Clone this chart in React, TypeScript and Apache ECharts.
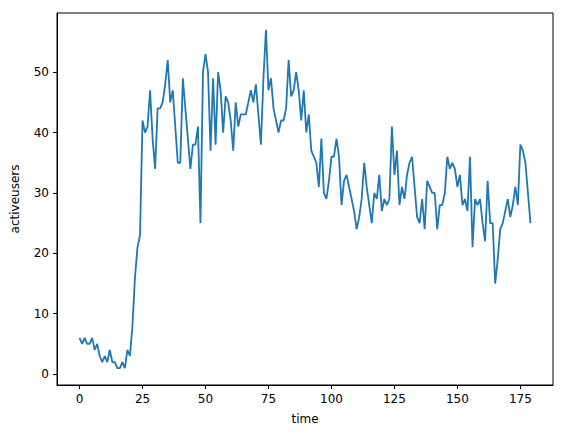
import React, { useEffect, useRef } from "react";
import * as echarts from "echarts";

const activeUsers: number[] = [
  6, 5, 6, 5, 5, 6, 4, 5, 3, 2,
  3, 2, 4, 2, 2, 1, 1, 2, 1, 4,
  3, 8, 16, 21, 23, 42, 40, 41, 47, 39,
  34, 44, 44, 45, 48, 52, 45, 47, 41, 35,
  35, 49, 44, 39, 34, 38, 38, 41, 25, 50,
  53, 50, 37, 49, 38, 50, 47, 40, 46, 45,
  42, 37, 45, 41, 43, 43, 43, 45, 47, 45,
  48, 43, 38, 49, 57, 47, 49, 44, 42, 40,
  42, 42, 44, 52, 46, 47, 50, 47, 42, 47,
  40, 43, 37, 36, 35, 31, 39, 30, 29, 32,
  36, 36, 39, 36, 28, 32, 33, 31, 29, 27,
  24, 26, 29, 35, 31, 28, 25, 30, 29, 33,
  27, 29, 28, 29, 41, 33, 37, 28, 31, 29,
  33, 35, 36, 31, 26, 25, 29, 24, 32, 31,
  30, 30, 24, 28, 28, 30, 36, 34, 35, 34,
  31, 33, 28, 29, 27, 36, 21, 29, 28, 29,
  25, 22, 32, 25, 25, 15, 19, 24, 25, 27,
  29, 26, 28, 31, 28, 38, 37, 35, 30, 25,
];

const xTicks: number[] = [0, 25, 50, 75, 100, 125, 150, 175];
const yTicks: number[] = [0, 10, 20, 30, 40, 50];

export default function App() {
  const ref = useRef<HTMLDivElement>(null);

  useEffect(() => {
    if (!ref.current) return;
    const chart = echarts.init(ref.current, undefined, { renderer: "svg" });
    const n = activeUsers.length;
    const xMin = 0 - 0.05 * (n - 1);
    const xMax = n - 1 + 0.05 * (n - 1);
    const yLo = Math.min(...activeUsers);
    const yHi = Math.max(...activeUsers);
    const yPad = 0.05 * (yHi - yLo);
    const font = "DejaVu Sans";
    const axisLine = { show: true, onZero: false, lineStyle: { color: "#000", width: 1 } };
    const tickStyle = { show: true, inside: false, length: 4, lineStyle: { color: "#000", width: 1 } };
    const nameStyle = { color: "#000", fontSize: 12, fontFamily: font };
    chart.setOption({
      animation: false,
      backgroundColor: "#fff",
      grid: {
        left: 57,
        right: 13,
        top: 13,
        bottom: 51,
        show: true,
        borderColor: "#000",
        borderWidth: 1,
        containLabel: false,
      },
      xAxis: {
        type: "value",
        min: xMin,
        max: xMax,
        name: "time",
        nameLocation: "middle",
        nameGap: 28,
        nameTextStyle: nameStyle,
        axisLine,
        splitLine: { show: false },
        axisTick: { ...tickStyle, customValues: xTicks },
        axisLabel: {
          customValues: xTicks,
          color: "#000",
          fontSize: 12,
          fontFamily: font,
          margin: 8,
        },
      },
      yAxis: {
        type: "value",
        min: yLo - yPad,
        max: yHi + yPad,
        name: "activeusers",
        nameLocation: "middle",
        nameGap: 36,
        nameTextStyle: nameStyle,
        axisLine,
        splitLine: { show: false },
        axisTick: { ...tickStyle, customValues: yTicks },
        axisLabel: {
          customValues: yTicks,
          color: "#000",
          fontSize: 12,
          fontFamily: font,
          margin: 8,
        },
      },
      series: [
        {
          type: "line",
          data: activeUsers.map((v, i) => [i, v]),
          showSymbol: false,
          symbol: "none",
          lineStyle: { color: "#1f77b4", width: 1.8 },
          itemStyle: { color: "#1f77b4" },
        },
      ],
    });
    return () => chart.dispose();
  }, []);

  return (
    <div
      ref={ref}
      style={{ position: "fixed", left: 0, top: 0, width: 566, height: 436 }}
    />
  );
}
